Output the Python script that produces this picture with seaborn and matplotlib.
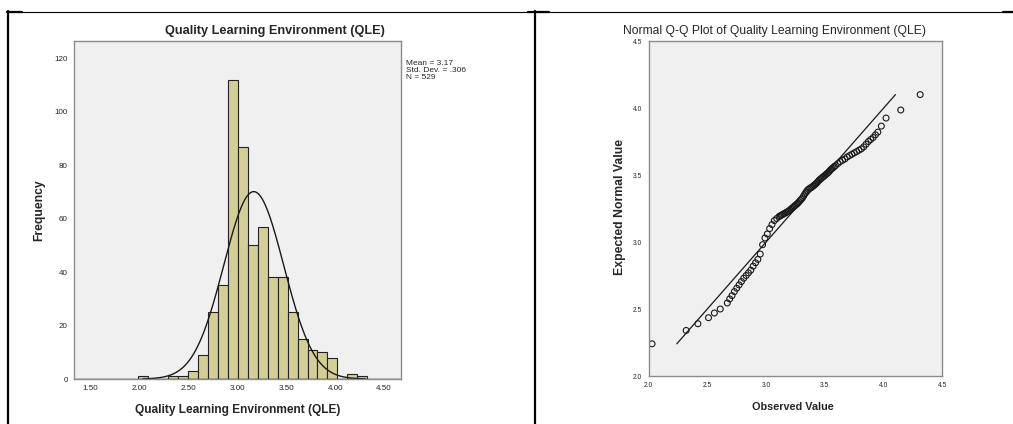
import matplotlib
matplotlib.use("Agg")
import matplotlib.pyplot as plt
from matplotlib.lines import Line2D
import numpy as np
import pandas as pd
import seaborn as sns

# histogram: bins start at 1.99, width ~0.1017
bin_start = 1.99
bin_width = 0.1017
bin_counts = [1, 0, 0, 1, 1, 3, 9, 25, 35, 112, 87, 50, 57, 38, 38, 25, 15, 11, 10, 8, 0, 2, 1]

qle_mean = 3.17
qle_sd = 0.306
qle_n = 529

hist_xticks = [1.5, 2.0, 2.5, 3.0, 3.5, 4.0, 4.5]
hist_xticklabels = ["1.50", "2.00", "2.50", "3.00", "3.50", "4.00", "4.50"]
hist_yticks = [0, 20, 40, 60, 80, 100, 120]

# normal Q-Q points (observed, expected normal value)
qq_observed = [
    2.03, 2.32, 2.42, 2.51, 2.56, 2.61, 2.67,
    2.69, 2.71, 2.73, 2.75, 2.77, 2.79, 2.81, 2.83, 2.85, 2.87, 2.89, 2.91, 2.93, 2.95,
    2.97, 2.99, 3.01, 3.03, 3.05, 3.07, 3.09, 3.11,
    3.12, 3.13, 3.14, 3.15, 3.16, 3.17, 3.18, 3.19, 3.20, 3.21, 3.22, 3.23, 3.24,
    3.25, 3.26, 3.27, 3.28, 3.29, 3.30, 3.31, 3.32, 3.33, 3.34, 3.35, 3.36, 3.37,
    3.38, 3.39, 3.40, 3.41, 3.42, 3.43, 3.44, 3.45, 3.46, 3.47, 3.48, 3.49, 3.50,
    3.51, 3.52, 3.53, 3.54, 3.55, 3.56, 3.57, 3.58, 3.59,
    3.61, 3.63, 3.65, 3.67, 3.69, 3.71, 3.73, 3.75, 3.77, 3.79, 3.81, 3.83, 3.85,
    3.87, 3.89, 3.91, 3.93, 3.95, 3.98, 4.02, 4.145, 4.31,
]
qq_expected = [
    2.24, 2.34, 2.39, 2.435, 2.47, 2.50, 2.545,
    2.575, 2.60, 2.63, 2.655, 2.68, 2.705, 2.73, 2.75, 2.77, 2.79, 2.82, 2.845, 2.87, 2.91,
    2.98, 3.03, 3.06, 3.10, 3.13, 3.16, 3.175, 3.19,
    3.195, 3.20, 3.205, 3.21, 3.215, 3.22, 3.225, 3.23, 3.237, 3.245, 3.252, 3.26, 3.267,
    3.275, 3.282, 3.29, 3.30, 3.31, 3.32, 3.33, 3.345, 3.36, 3.372, 3.385, 3.393, 3.40,
    3.405, 3.41, 3.418, 3.425, 3.432, 3.44, 3.45, 3.46, 3.468, 3.475, 3.483, 3.49, 3.497,
    3.505, 3.512, 3.52, 3.53, 3.54, 3.548, 3.555, 3.563, 3.57,
    3.585, 3.60, 3.61, 3.62, 3.635, 3.645, 3.655, 3.665, 3.675, 3.685, 3.695, 3.71, 3.73,
    3.75, 3.765, 3.78, 3.80, 3.82, 3.865, 3.925, 3.985, 4.10,
]
qq_line = [2.24, 4.10]
qq_ticks = [2.0, 2.5, 3.0, 3.5, 4.0, 4.5]

TITLE = "Quality Learning Environment (QLE)"

sns.set_style("white")
plt.rcParams["font.family"] = ["Liberation Sans", "DejaVu Sans"]
plt.rcParams["axes.facecolor"] = "#f0f0f0"

fig = plt.figure(figsize=(10.13, 4.24), dpi=100)
ax_h = fig.add_axes([0.0731, 0.1061, 0.3228, 0.7972])
ax_q = fig.add_axes([0.6402, 0.1132, 0.2902, 0.7901])

for ax in (ax_h, ax_q):
    ax.set_facecolor("#f0f0f0")
    for sp in ax.spines.values():
        sp.set_color("#8c8c8c")
        sp.set_linewidth(1.0)
    ax.tick_params(direction="out", length=3, width=0.8, color="#333333", pad=1.5)

# --- histogram
edges = [bin_start + bin_width * i for i in range(len(bin_counts) + 1)]
centers = [(a + b) / 2 for a, b in zip(edges[:-1], edges[1:])]
hist_df = pd.DataFrame({"qle": centers, "count": bin_counts})
sns.histplot(data=hist_df, x="qle", weights="count", bins=edges, ax=ax_h,
             color="#d3ce97", alpha=1, edgecolor="#222222", linewidth=0.8)

curve_x = np.linspace(2.04, 4.31, 300)
curve_y = (qle_n * bin_width / (qle_sd * np.sqrt(2 * np.pi))
           * np.exp(-0.5 * ((curve_x - qle_mean) / qle_sd) ** 2))
sns.lineplot(x=curve_x, y=curve_y, ax=ax_h, color="#1a1a1a", linewidth=1.0)
ax_h.axhline(0, color="#222222", linewidth=1.0)

ax_h.set_xlim(1.337, 4.673)
ax_h.set_ylim(0, 126.5)
ax_h.set_xticks(hist_xticks)
ax_h.set_xticklabels(hist_xticklabels)
ax_h.set_yticks(hist_yticks)
ax_h.tick_params(labelsize=5.8)
ax_h.set_xlabel(TITLE, fontsize=8.6, fontweight="bold")
ax_h.xaxis.set_label_coords(0.50, -0.0917)
ax_h.xaxis.label.set_va("center")
ax_h.set_ylabel("Frequency", fontsize=8.7, fontweight="bold")
ax_h.yaxis.set_label_coords(-0.107, 0.5)
ax_h.yaxis.label.set_va("center")
ax_h.text(0.615, 1.030, TITLE, transform=ax_h.transAxes, ha="center", va="center",
          fontsize=9.2, fontweight="bold")
ax_h.text(1.015, 0.944, f"Mean = {qle_mean}\nStd. Dev. = .306\nN = {qle_n}",
          transform=ax_h.transAxes, ha="left", va="top", fontsize=6.0, linespacing=1.05)

# --- Q-Q plot
sns.lineplot(x=qq_line, y=qq_line, ax=ax_q, color="#1a1a1a", linewidth=0.9)
sns.scatterplot(x=qq_observed, y=qq_expected, ax=ax_q, marker="o", s=18,
                facecolor="none", edgecolor="#1a1a1a", linewidth=0.8)
ax_q.set_xlim(2.0, 4.5)
ax_q.set_ylim(2.0, 4.5)
ax_q.set_xticks(qq_ticks)
ax_q.set_yticks(qq_ticks)
ax_q.tick_params(labelsize=4.8)
ax_q.set_xlabel("Observed Value", fontsize=7.8, fontweight="bold")
ax_q.xaxis.set_label_coords(0.491, -0.0925)
ax_q.xaxis.label.set_va("center")
ax_q.set_ylabel("Expected Normal Value", fontsize=8.8, fontweight="bold")
ax_q.yaxis.set_label_coords(-0.097, 0.504)
ax_q.yaxis.label.set_va("center")
ax_q.text(0.430, 1.030, "Normal Q-Q Plot of " + TITLE, transform=ax_q.transAxes,
          ha="center", va="center", fontsize=8.7)

# --- table frame around the two charts
H = 424.0
W = 1013.0
def fx(px):
    return px / W
def fy(py):
    return 1 - py / H

fig.add_artist(Line2D([fx(7), fx(1013)], [fy(11.5), fy(11.5)], color="black", lw=0.8))
for x0, x1 in ((7, 22), (528, 549), (1003, 1013)):
    fig.add_artist(Line2D([fx(x0), fx(x1)], [fy(11.5), fy(11.5)], color="black", lw=1.6))
fig.add_artist(Line2D([fx(7.5), fx(7.5)], [fy(11), fy(424)], color="black", lw=1.6))
fig.add_artist(Line2D([fx(535), fx(535)], [fy(11), fy(424)], color="black", lw=1.6))

fig.savefig("out.png", dpi=100, facecolor="white")
